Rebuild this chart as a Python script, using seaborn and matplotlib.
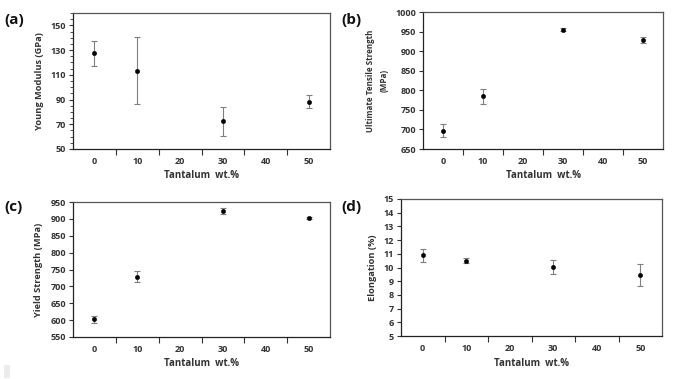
import matplotlib
matplotlib.use("Agg")
import matplotlib.pyplot as plt
import seaborn as sns
import pandas as pd
from matplotlib.ticker import MultipleLocator, FixedLocator
from matplotlib.patches import Rectangle

sns.set_style("white")
plt.rcParams['font.family'] = ['Open Sans', 'DejaVu Sans']
plt.rcParams['font.weight'] = 'bold'

ta_wt = [0, 10, 30, 50]

young_mean = [127.5, 113.4, 72.3, 88.2]
young_err = [10.0, 27.0, 11.5, 5.3]

uts_mean = [697, 785, 955, 928]
uts_err = [16, 19, 3, 8]

ys_mean = [602, 729, 924, 904]
ys_err = [11, 16, 9, 3]

elong_mean = [10.88, 10.51, 10.02, 9.44]
elong_err = [0.45, 0.2, 0.5, 0.78]

x_ticks = [0, 10, 20, 30, 40, 50]

panels = [
    dict(label="(a)", ylabel="Young Modulus (GPa)", ylsize=6.7, mean=young_mean, err=young_err,
         ylim=(50, 160), yticks=[50, 70, 90, 110, 130, 150], minor=5,
         rect=[73/681, 1-149/379, 257/681, 136/379], lab_xy=(4/681, 1-20/379)),
    dict(label="(b)", ylabel="Ultimate Tensile Strength\n(MPa)", ylsize=5.8, mean=uts_mean, err=uts_err,
         ylim=(650, 1000), yticks=list(range(650, 1001, 50)), minor=None,
         rect=[423/681, 1-149/379, 240/681, 137/379], lab_xy=(341/681, 1-20/379)),
    dict(label="(c)", ylabel="Yield Strength (MPa)", ylsize=6.7, mean=ys_mean, err=ys_err,
         ylim=(550, 950), yticks=list(range(550, 951, 50)), minor=None,
         rect=[73/681, 1-337/379, 257/681, 135/379], lab_xy=(4/681, 1-207/379)),
    dict(label="(d)", ylabel="Elongation (%)", ylsize=6.7, mean=elong_mean, err=elong_err,
         ylim=(5, 15), yticks=list(range(5, 16)), minor=None,
         rect=[401/681, 1-336/379, 261/681, 137/379], lab_xy=(341/681, 1-207/379)),
]

fig = plt.figure(figsize=(6.81, 3.79), dpi=100)

for p in panels:
    ax = fig.add_axes(p["rect"])
    df = pd.DataFrame({"x": ta_wt, "y": p["mean"]})
    ax.errorbar(df["x"], df["y"], yerr=p["err"], fmt="none", ecolor="#7f7f7f",
                elinewidth=0.8, capsize=2, capthick=0.8, zorder=2)
    sns.scatterplot(data=df, x="x", y="y", ax=ax, color="black", s=10,
                    edgecolor="black", linewidth=0.3, zorder=3, legend=False)
    ax.set_xlim(-5, 55)
    ax.set_ylim(*p["ylim"])
    ax.xaxis.set_major_locator(FixedLocator(x_ticks))
    ax.xaxis.set_minor_locator(FixedLocator([5, 15, 25, 35, 45]))
    ax.set_xticklabels([str(v) for v in x_ticks], fontsize=6.5, fontweight="bold", color="#333333")
    ax.tick_params(axis="x", which="major", length=0, pad=6)
    ax.tick_params(axis="x", which="minor", length=4, width=0.8, direction="out", bottom=True, color="#333333")
    ax.set_yticks(p["yticks"])
    ax.set_yticklabels([str(v) for v in p["yticks"]], fontsize=6.5, fontweight="bold", color="#333333")
    ax.tick_params(axis="y", which="major", length=3, width=0.8, direction="out", left=True, color="#333333", pad=2)
    if p["minor"]:
        ax.yaxis.set_minor_locator(MultipleLocator(p["minor"]))
        ax.tick_params(axis="y", which="minor", length=2, width=0.6, direction="out", left=True, color="#333333")
    for s in ax.spines.values():
        s.set_color("#555555")
        s.set_linewidth(0.9)
    ax.spines["left"].set_color("#222222")
    ax.spines["bottom"].set_color("#222222")
    ax.set_xlabel("Tantalum  wt.%", fontsize=7, fontweight="bold", color="#333333", labelpad=3)
    ax.set_ylabel(p["ylabel"], fontsize=p["ylsize"], fontweight="bold", color="#333333",
                  labelpad=5, linespacing=1.6)
    fig.text(p["lab_xy"][0], p["lab_xy"][1], p["label"], fontsize=11, fontweight="bold",
             ha="left", va="center", color="#111111")

fig.patches.append(Rectangle((4/681, 1-378/379), 6/681, 13/379, transform=fig.transFigure,
                             facecolor="#ececec", edgecolor="none"))

fig.savefig("out.png", dpi=100, facecolor="white")
